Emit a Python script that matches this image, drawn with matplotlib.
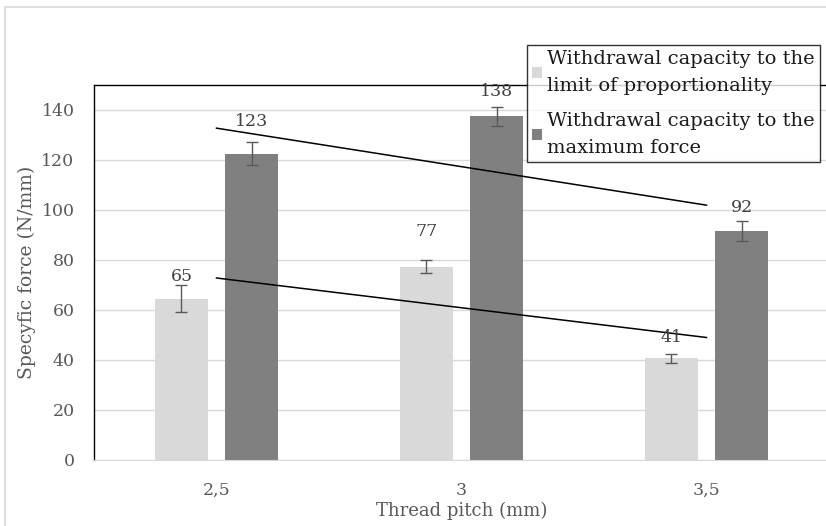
import numpy as np
import matplotlib
matplotlib.use("Agg")
import matplotlib.pyplot as plt
from matplotlib.patches import Patch, Rectangle

categories = ["2,5", "3", "3,5"]
series_names = ["Withdrawal capacity to the\nlimit of proportionality",
                "Withdrawal capacity to the\nmaximum force"]
prop_vals = [64.6, 77.3, 40.8]
prop_err = [5.4, 2.6, 1.8]
max_vals = [122.6, 137.6, 91.8]
max_err = [4.7, 3.8, 4.0]

LIGHT = "#d9d9d9"
DARK = "#808080"
TXT = "#595959"
FONT = "DejaVu Serif"
plt.rcParams["font.family"] = [FONT]

W, H = 826, 526
fig = plt.figure(figsize=(W / 100, H / 100), dpi=100)
ax = fig.add_axes([94 / W, (H - 460) / H, 735 / W, 375 / H])

x = np.arange(len(categories))
off, bw = 0.143, 0.22
ax.bar(x - off, prop_vals, bw, color=LIGHT, zorder=2)
ax.bar(x + off, max_vals, bw, color=DARK, zorder=2)
ekw = dict(fmt="none", ecolor=TXT, elinewidth=1.0, capsize=4, capthick=1.0, zorder=3)
ax.errorbar(x - off, prop_vals, yerr=prop_err, **ekw)
ax.errorbar(x + off, max_vals, yerr=max_err, **ekw)

# linear trendlines (as in the spreadsheet)
for vals in (prop_vals, max_vals):
    k, b = np.polyfit(x, vals, 1)
    ax.plot(x, k * x + b, color="black", lw=1.1, zorder=4)

# value labels, offset in pixels above bar top
lab_off = {0: [22, 35, 21], 1: [32, 24, 23]}
for si, (vals, sx) in enumerate(((prop_vals, x - off), (max_vals, x + off))):
    for i, v in enumerate(vals):
        ax.annotate(f"{round(v)}", (sx[i], v), xytext=(0, lab_off[si][i] * 0.72),
                    textcoords="offset points", ha="center", va="center",
                    fontsize=12.5, color="#404040", zorder=5)

ax.set_xlim(-0.5, 2.5)
ax.set_ylim(0, 150)
ax.set_yticks(range(0, 141, 20))
ax.set_xticks(x)
ax.set_xticklabels(categories)
ax.tick_params(axis="both", length=0, colors=TXT, labelsize=12.5)
ax.tick_params(axis="y", pad=14)
ax.tick_params(axis="x", pad=16)
ax.yaxis.grid(True, color=LIGHT, lw=1.0, zorder=0)
ax.set_axisbelow(True)
for s in ("left", "top"):
    ax.spines[s].set_color("black")
    ax.spines[s].set_linewidth(1.0)
ax.spines["bottom"].set_color(LIGHT)
ax.spines["right"].set_visible(False)

ax.set_ylabel("Specyfic force (N/mm)", color=TXT, fontsize=13.5, labelpad=4)
ax.set_xlabel("Thread pitch (mm)", color=TXT, fontsize=13, labelpad=2)

handles = [Patch(facecolor=LIGHT), Patch(facecolor=DARK)]
leg = fig.legend(handles, series_names, loc="upper left",
                 bbox_to_anchor=(527 / W, 1 - 45 / H), bbox_transform=fig.transFigure,
                 fontsize=14, frameon=True, fancybox=False, edgecolor="black",
                 handlelength=0.5, handleheight=0.5, handletextpad=0.3,
                 borderpad=0.25, labelspacing=0.9, borderaxespad=0)
leg.get_frame().set_linewidth(1.0)
for t in leg.get_texts():
    t.set_color("#1a1a1a")
    t.set_linespacing(1.62)

# outer chart-area border
fig.patches.append(Rectangle((5 / W, -0.05), 1.1, 1.05 - 7 / H, transform=fig.transFigure,
                             fill=False, edgecolor=LIGHT, lw=1.2, zorder=0))

fig.savefig("out.png", dpi=100)
